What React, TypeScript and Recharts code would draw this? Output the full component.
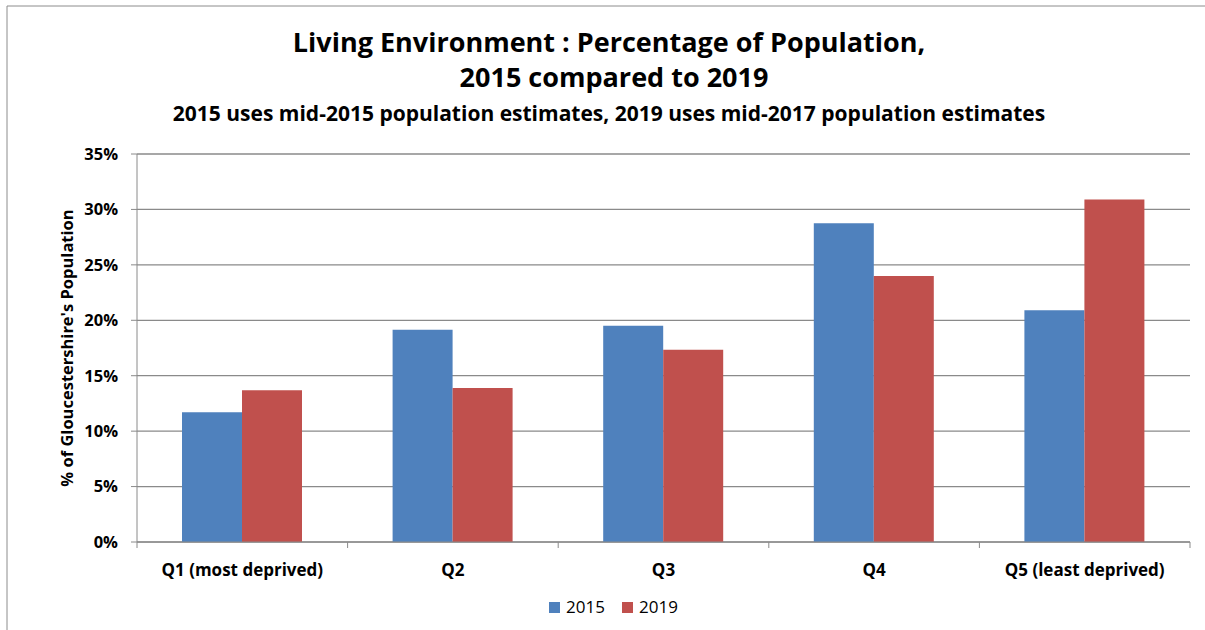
import React from "react"
import { BarChart, Bar, XAxis, YAxis, CartesianGrid } from "recharts"

const categories = ["Q1 (most deprived)", "Q2", "Q3", "Q4", "Q5 (least deprived)"]
const values2015 = [11.7, 19.15, 19.5, 28.75, 20.9]
const values2019 = [13.7, 13.9, 17.35, 24.0, 30.9]
const yTicks = [0, 5, 10, 15, 20, 25, 30, 35]
const seriesNames = ["2015", "2019"]

const BLUE = "#4F81BD"
const RED = "#C0504D"
const AXIS = "#8a8a8a"
const FONT = "'Open Sans', Lato, sans-serif"

const WIDTH = 1205
const HEIGHT = 630
const PLOT_LEFT = 137
const PLOT_RIGHT = 1190
const PLOT_TOP = 154
const PLOT_BOTTOM = 542
const BAND = (PLOT_RIGHT - PLOT_LEFT) / categories.length

const data = categories.map((name, i) => ({
  name,
  y2015: values2015[i],
  y2019: values2019[i],
}))

// category label plus the boundary tick marks between categories
function CategoryTick(props: any) {
  const { x, payload, index } = props
  const isLast = index === categories.length - 1
  return (
    <g>
      <line x1={x - BAND / 2} x2={x - BAND / 2} y1={PLOT_BOTTOM} y2={PLOT_BOTTOM + 6} stroke={AXIS} />
      {isLast && (
        <line x1={x + BAND / 2} x2={x + BAND / 2} y1={PLOT_BOTTOM} y2={PLOT_BOTTOM + 6} stroke={AXIS} />
      )}
      <text
        x={x}
        y={PLOT_BOTTOM + 34}
        textAnchor="middle"
        fontFamily={FONT}
        fontWeight={700}
        fontSize={17}
        fill="#000"
      >
        {payload.value}
      </text>
    </g>
  )
}

function ChartLegend() {
  const colors = [BLUE, RED]
  return (
    <div
      style={{
        position: "absolute",
        left: 11,
        top: 597,
        width: WIDTH,
        display: "flex",
        justifyContent: "center",
        gap: 17,
        fontFamily: FONT,
        fontSize: 17,
        lineHeight: "20px",
      }}
    >
      {seriesNames.map((s, i) => (
        <div key={s} style={{ display: "flex", alignItems: "center", gap: 6 }}>
          <div style={{ width: 11, height: 11, background: colors[i] }} />
          <span style={{ color: "#000" }}>{s}</span>
        </div>
      ))}
    </div>
  )
}

export default function App() {
  return (
    <div style={{ position: "absolute", left: 0, top: 0, width: WIDTH, height: HEIGHT, background: "#fff", overflow: "hidden" }}>
      <BarChart
        width={WIDTH}
        height={HEIGHT}
        data={data}
        margin={{ top: PLOT_TOP, right: WIDTH - PLOT_RIGHT, bottom: 0, left: 77 }}
        barGap={0}
        barCategoryGap={45}
      >
        <CartesianGrid vertical={false} stroke={AXIS} strokeWidth={1.3} />
        <XAxis
          dataKey="name"
          axisLine={{ stroke: AXIS }}
          tickLine={false}
          tick={<CategoryTick />}
          interval={0}
          height={HEIGHT - PLOT_BOTTOM}
        />
        <YAxis
          domain={[0, 35]}
          ticks={yTicks}
          width={60}
          interval={0}
          axisLine={{ stroke: AXIS }}
          tickLine={{ stroke: AXIS }}
          tickSize={6}
          tickMargin={13}
          tickFormatter={(v: number) => `${v}%`}
          tick={{ fontFamily: FONT, fontWeight: 700, fontSize: 16.5, fill: "#000" }}
        />
        <Bar dataKey="y2015" name="2015" fill={BLUE} barSize={60} isAnimationActive={false} />
        <Bar dataKey="y2019" name="2019" fill={RED} barSize={60} isAnimationActive={false} />
      </BarChart>
      <ChartLegend />
      <svg
        width={WIDTH}
        height={HEIGHT}
        style={{ position: "absolute", left: 0, top: 0, pointerEvents: "none" }}
      >
        <line x1={7} x2={7} y1={6} y2={HEIGHT} stroke="#8c8c8c" />
        <line x1={7} x2={WIDTH} y1={6} y2={6} stroke="#8c8c8c" />
        <text x={609} y={52} textAnchor="middle" fontFamily={FONT} fontWeight={700} fontSize={27} fill="#000">
          Living Environment : Percentage of Population,
        </text>
        <text x={614} y={87} textAnchor="middle" fontFamily={FONT} fontWeight={700} fontSize={27} fill="#000">
          2015 compared to 2019
        </text>
        <text x={609} y={121} textAnchor="middle" fontFamily={FONT} fontWeight={700} fontSize={21} fill="#000">
          2015 uses mid-2015 population estimates, 2019 uses mid-2017 population estimates
        </text>
        <text
          transform="translate(73, 348) rotate(-90)"
          textAnchor="middle"
          fontFamily={FONT}
          fontWeight={700}
          fontSize={16.5}
          fill="#000"
        >
          % of Gloucestershire's Population
        </text>
      </svg>
    </div>
  )
}
